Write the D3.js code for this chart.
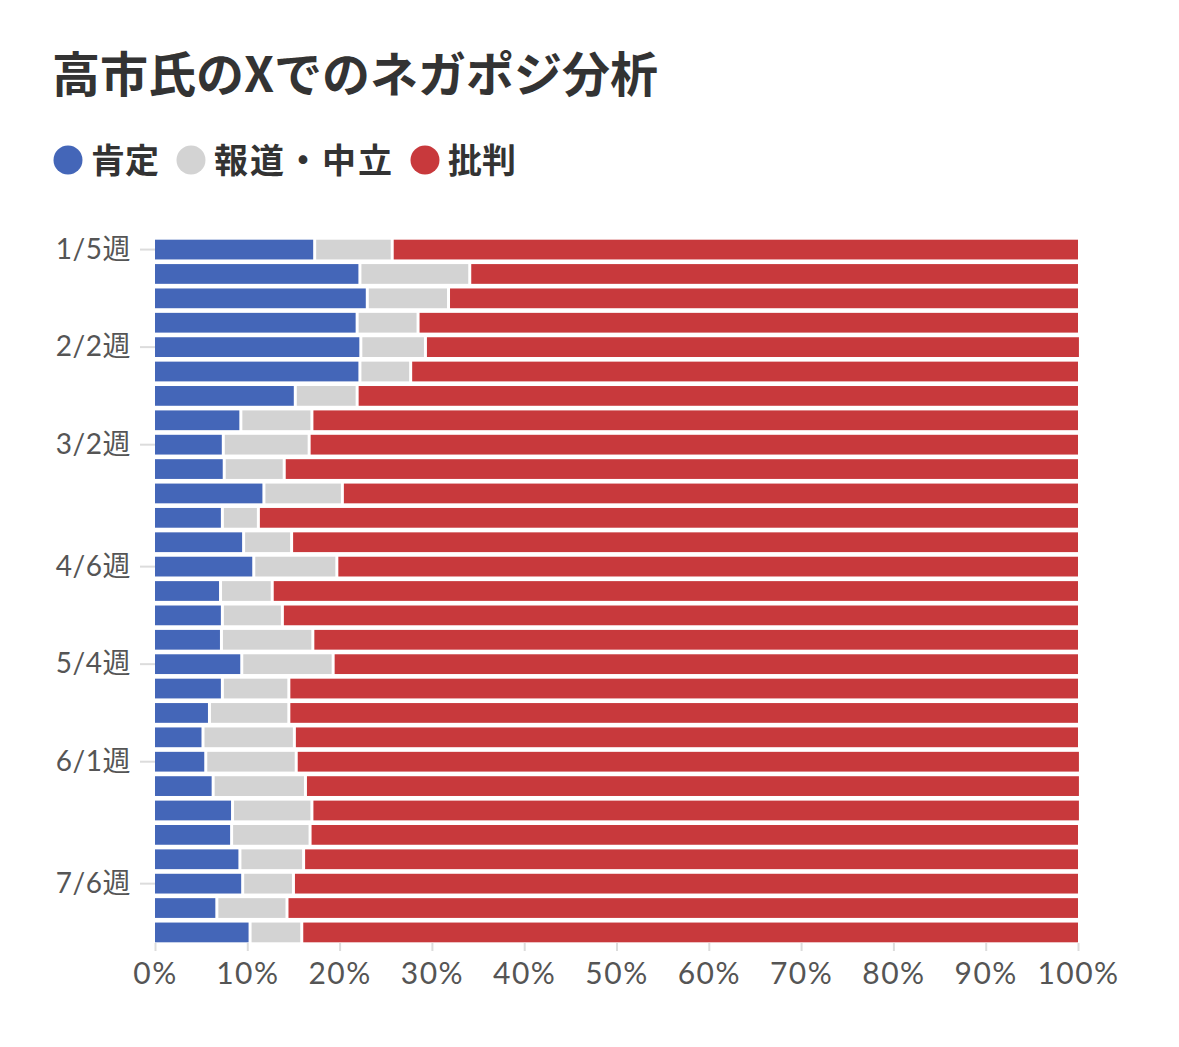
<!DOCTYPE html>
<html><head><meta charset="utf-8">
<script src="https://cdn.jsdelivr.net/npm/d3@7/dist/d3.min.js"></script>
<style>
html,body{margin:0;padding:0;background:#fff;}
svg{display:block;}
</style></head>
<body>
<svg id="chart" width="1179" height="1047"></svg>
<script>
const weeks = ["1/5","1/12","1/19","1/26","2/2","2/9","2/16","2/23","3/2","3/9","3/16","3/23","3/30","4/6","4/13","4/20","4/27","5/4","5/11","5/18","5/25","6/1","6/8","6/15","6/22","6/29","7/6","7/13","7/20"];
const positive = [17.3,22.2,23.0,21.9,22.3,22.2,15.2,9.3,7.4,7.5,11.8,7.3,9.6,10.7,7.1,7.3,7.2,9.4,7.3,5.9,5.2,5.5,6.3,8.4,8.3,9.2,9.5,6.7,10.3];
const neutral  = [8.4,11.9,8.8,6.6,7.0,5.5,6.7,7.7,9.3,6.5,8.5,3.9,5.2,9.0,5.6,6.5,9.9,9.9,7.2,8.6,9.9,9.8,10.0,8.6,8.5,6.9,5.5,7.6,5.6];
const negative = [74.3,65.9,68.2,71.5,70.8,72.3,78.1,83.0,83.3,86.0,79.7,88.8,85.2,80.3,87.3,86.2,82.9,80.7,85.5,85.5,84.9,84.8,83.8,83.1,83.2,83.9,85.0,85.7,84.1];
const tickWeeks = ["1/5","2/2","3/2","4/6","5/4","6/1","7/6"];
const xTicks = [0,10,20,30,40,50,60,70,80,90,100];
const seriesNames = ["肯定","報道・中立","批判"];
const colors = ["#4466b8","#d3d3d3","#c8393c"];

const svg = d3.select("#chart");
const x = d3.scaleLinear().domain([0,100]).range([155,1078]);
const y = d3.scaleBand().domain(weeks).range([237.5,944.5]).paddingInner(0.19).paddingOuter(0.09);

// title
svg.append("text").attr("x",52).attr("y",92)
  .attr("font-family","'Noto Sans CJK JP', sans-serif").attr("font-weight",700)
  .attr("font-size",48).attr("letter-spacing",0).attr("fill","#333").text("高市氏のXでのネガポジ分析");

// legend
const legendX = [68,191,425];
const lg = svg.append("g");
seriesNames.forEach((n,i)=>{
  lg.append("circle").attr("cx",legendX[i]).attr("cy",160).attr("r",14.5).attr("fill",colors[i]);
  lg.append("text").attr("x",legendX[i]+23).attr("y",173)
    .attr("font-family","'Noto Sans CJK JP', sans-serif").attr("font-weight",700)
    .attr("font-size",34).attr("letter-spacing",i===1?2:0).attr("fill","#333").text(n);
});

// stacked data
const rows = weeks.map((w,i)=>({week:w, vals:[positive[i],neutral[i],negative[i]]}));
const gap = 1.5;
const barG = svg.append("g");
rows.forEach(r=>{
  let cum = 0;
  r.vals.forEach((v,k)=>{
    const x0 = x(cum), x1 = x(cum+v);
    const left = k===0 ? x0 : x0+gap;
    const right = k===2 ? x1 : x1-gap;
    barG.append("rect").attr("x",left).attr("y",y(r.week))
      .attr("width",Math.max(0,right-left)).attr("height",y.bandwidth())
      .attr("fill",colors[k]);
    cum += v;
  });
});

// y axis
const yAxis = d3.axisLeft(y).tickValues(tickWeeks).tickFormat(d=>d+"週").tickSize(15).tickPadding(9);
const yg = svg.append("g").attr("transform","translate(155,0)").call(yAxis);
yg.select(".domain").remove();
yg.selectAll(".tick line").attr("stroke","#dcdcdc").attr("stroke-width",2);
yg.selectAll(".tick text").attr("font-family","Lato, 'Noto Sans CJK JP', sans-serif")
  .attr("font-size",28).attr("letter-spacing",0.5).attr("fill","#555");

// x axis
const xAxis = d3.axisBottom(x).tickValues(xTicks).tickFormat(d=>d+"%").tickSize(8).tickPadding(12);
const xg = svg.append("g").attr("transform","translate(0,943)").call(xAxis);
xg.select(".domain").remove();
xg.selectAll(".tick line").attr("stroke","#dcdcdc").attr("stroke-width",2);
xg.selectAll(".tick text").attr("font-family","Lato, sans-serif")
  .attr("font-size",30).attr("letter-spacing",1.5).attr("fill","#555");
</script>
</body></html>
